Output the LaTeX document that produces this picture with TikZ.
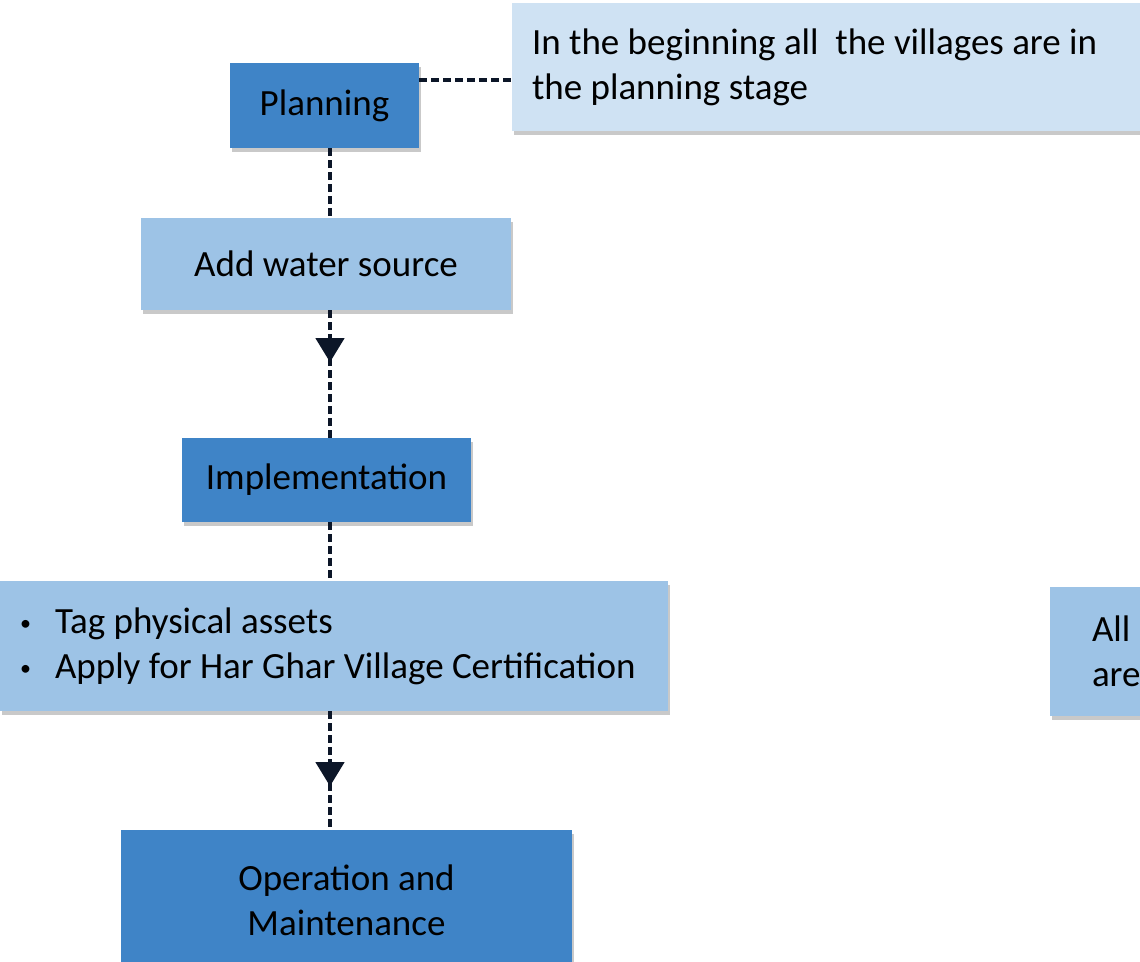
\documentclass[tikz,border=0pt]{standalone}
\usepackage{fontspec}
\setmainfont{Carlito}
\usetikzlibrary{arrows.meta,shadows,decorations.markings}
\definecolor{darkbox}{RGB}{63,132,199}
\definecolor{lightbox}{RGB}{157,195,230}
\definecolor{paleblue}{RGB}{207,226,243}
\definecolor{linecol}{RGB}{12,22,40}
\newcommand{\plainsp}{\spaceskip=0pt\xspaceskip=0pt\rightskip=0pt plus 1fil\relax}
\tikzset{
  box/.style={rectangle, inner sep=0pt, font=\fontsize{37}{45}\selectfont,
    drop shadow={shadow xshift=2pt, shadow yshift=-4pt, opacity=0.35, fill=black!60}},
  ctext/.style={align=center},
  ltext/.style={text width=#1, align=left},
  darkb/.style={box, fill=darkbox},
  lightb/.style={box, fill=lightbox},
  paleb/.style={box, fill=paleblue},
  conn/.style={draw=linecol, line width=4.2pt, dash pattern=on 8pt off 4pt},
  midarrow/.style={postaction={decorate, decoration={markings,
    mark=at position #1 with {\arrow[linecol]{Triangle[width=28pt,length=24pt]}}}}}
}
\newcommand{\bul}{\makebox[35pt][l]{\fontsize{22}{22}\selectfont\raisebox{3pt}{•}}}
\begin{document}
\begin{tikzpicture}[x=1pt,y=-1pt]
\path[use as bounding box, clip] (0,0) rectangle (1140,961);
\fill[white] (0,0) rectangle (1140,961);
\coordinate (spine) at (330,0);
\node[darkb, ctext, minimum width=189pt, minimum height=85pt] (plan) at (324.5,105.5) {Planning};
\node[paleb, minimum width=648pt, minimum height=128pt, ltext=608pt, inner xsep=20pt] (call) at (836,67)
  {\plainsp In the beginning all\ \ the villages are in\\the planning stage};
\node[lightb, ctext, minimum width=370pt, minimum height=92pt] (water) at (326,264) {Add water source};
\node[darkb, ctext, minimum width=289pt, minimum height=84pt] (impl) at (326.5,480) {Implementation};
\node[lightb, minimum width=668pt, minimum height=130pt, ltext=628pt, inner xsep=20pt] (tasks) at (334,646)
  {\plainsp\bul Tag physical assets\\
   \bul Apply for Har Ghar Village Certification};
\node[lightb, minimum width=182pt, minimum height=129pt, ltext=98pt, inner xsep=42pt] (all) at (1141,651.5)
  {\plainsp All\\are};
\node[darkb, ctext, minimum width=451pt, minimum height=140pt] (om) at (346.5,900) {Operation and\\Maintenance};
\coordinate (pc) at ([yshift=-17pt]plan.north east);
\draw[conn] (pc) -- (pc -| call.west);
\draw[conn] (plan.south -| spine) -- (water.north -| spine);
\draw[conn, midarrow=52pt] (water.south -| spine) -- (impl.north -| spine);
\draw[conn] (impl.south -| spine) -- (tasks.north -| spine);
\draw[conn, midarrow=75pt] (tasks.south -| spine) -- (om.north -| spine);
\end{tikzpicture}
\end{document}
